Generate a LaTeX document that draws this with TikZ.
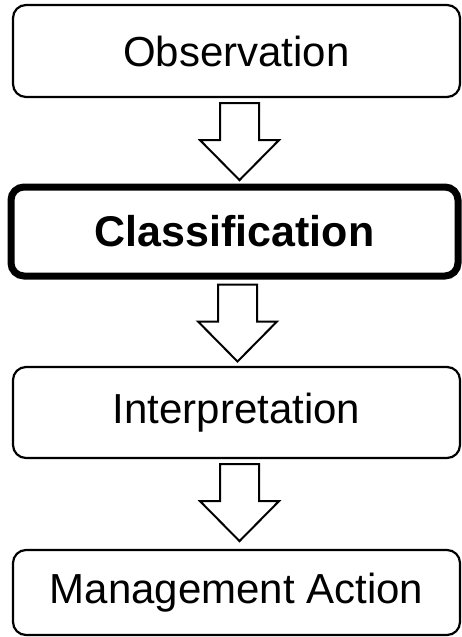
\documentclass[tikz,border=0pt]{standalone}
\usepackage{fontspec}
\setmainfont{Liberation Sans}
\usepackage{tikz}
\usetikzlibrary{calc}
\newcommand{\Blockpfeil}[1]{\draw[line width=2pt,fill=white,line join=miter] ($(#1.south)+(-16.5,5)$) -- ++(39,0) -- ++(0,37) -- ++(20,0) -- ++(-39.5,40) -- ++(-39.5,-40) -- ++(20,0) -- cycle;}

\begin{document}
\begin{tikzpicture}[x=1pt,y=-1pt,
  schritt/.style={draw,line width=2.2pt,rounded corners=13pt,minimum width=447pt,
    font=\fontsize{42}{50}\selectfont,inner sep=0pt}]
  \useasboundingbox (0,0) rectangle (462,637);
  % Kaesten
  \node[schritt,minimum height=92pt] (beob) at (236.5,51) {Observation};
  \node[schritt,minimum height=89pt,line width=7pt,font=\fontsize{43}{50}\selectfont\bfseries] (klass) at (234.5,231.5) {Classification};
  \node[schritt,minimum height=91pt] (interp) at (236.5,412.5) {Interpretation};
  \node[schritt,minimum height=85pt] (mgmt) at (236.5,592.5) {Management Action};
  % Pfeile
  \Blockpfeil{beob}
  \Blockpfeil{klass}
  \Blockpfeil{interp}
\end{tikzpicture}
\end{document}
